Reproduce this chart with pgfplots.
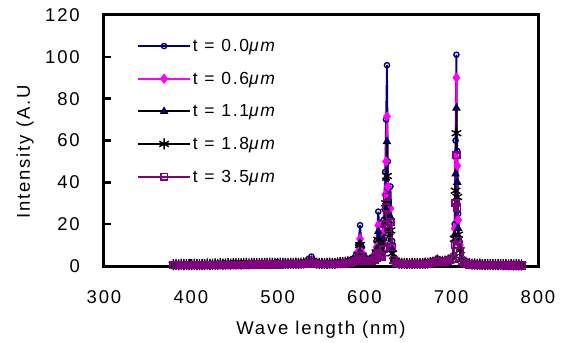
\documentclass[border=0pt]{standalone}
\usepackage{fontspec}
\setmainfont{Liberation Sans}[LetterSpace=10]
\usepackage{pgfplots}
\usepackage{pgfplotstable}
\pgfplotsset{compat=1.18}
\definecolor{cnavy}{HTML}{000080}
\definecolor{cmag}{HTML}{FF00FF}
\definecolor{cpur}{HTML}{800080}
\definecolor{cblue}{HTML}{0000CC}
\pgfplotstableread{
x a b c d e
380 0.5 0.4 0.3 0.6 0.3
383 0.6 0.5 0.4 0.8 0.4
386 0.5 0.4 0.3 0.5 0.3
389 0.7 0.5 0.4 0.9 0.4
392 0.6 0.4 0.3 0.6 0.3
395 0.5 0.5 0.4 0.7 0.4
398 0.6 0.4 0.3 0.8 0.3
401 0.7 0.5 0.4 0.6 0.4
404 0.6 0.4 0.3 0.9 0.3
407 0.5 0.5 0.4 0.7 0.4
410 0.6 0.4 0.3 0.6 0.3
413 0.7 0.5 0.4 0.8 0.4
416 0.6 0.5 0.3 0.7 0.3
419 0.8 0.6 0.5 1.0 0.4
422 0.7 0.5 0.4 0.8 0.4
425 0.8 0.6 0.5 0.9 0.4
428 0.7 0.5 0.4 1.0 0.4
431 0.8 0.6 0.5 0.8 0.5
434 0.9 0.6 0.5 1.1 0.4
437 0.8 0.6 0.5 0.9 0.5
440 0.9 0.7 0.6 1.0 0.5
443 0.8 0.6 0.5 1.2 0.5
446 0.9 0.7 0.6 0.9 0.5
449 1.0 0.7 0.6 1.1 0.6
452 0.9 0.7 0.6 1.0 0.5
455 1.0 0.8 0.7 1.2 0.6
458 0.9 0.7 0.6 1.0 0.6
461 1.0 0.8 0.7 1.1 0.6
464 1.1 0.8 0.7 1.3 0.6
467 1.0 0.8 0.7 1.0 0.6
470 1.1 0.9 0.8 1.2 0.7
473 1.0 0.8 0.7 1.1 0.6
476 1.1 0.9 0.8 1.3 0.7
479 1.2 0.9 0.8 1.1 0.7
482 1.1 0.9 0.8 1.2 0.7
485 1.2 1.0 0.9 1.3 0.8
488 1.1 0.9 0.8 1.2 0.7
491 1.2 1.0 0.9 1.4 0.8
494 1.1 0.9 0.8 1.2 0.7
497 1.2 1.0 0.9 1.3 0.8
500 1.2 1.0 0.9 1.2 0.8
503 1.1 0.9 0.8 1.4 0.7
506 1.2 1.0 0.9 1.2 0.8
509 1.3 1.0 0.9 1.3 0.8
512 1.2 1.0 0.9 1.2 0.8
515 1.3 1.1 1.0 1.4 0.9
518 1.2 1.0 0.9 1.3 0.8
521 1.3 1.1 1.0 1.4 0.9
524 1.3 1.0 0.9 1.2 0.8
527 1.4 1.1 1.0 1.4 0.9
530 1.6 1.2 1.1 1.5 1.0
533 2.2 1.5 1.2 1.6 1.1
536 3.5 2.0 1.5 1.8 1.3
539 4.5 2.5 1.8 2.0 1.5
542 2.5 1.8 1.4 1.6 1.2
545 1.6 1.3 1.1 1.4 1.0
548 1.4 1.1 1.0 1.2 0.9
551 1.3 1.1 1.0 1.3 0.9
554 1.2 1.0 0.9 1.3 0.8
557 1.3 1.1 1.0 1.2 0.9
560 1.4 1.2 1.0 1.4 0.9
563 1.4 1.1 1.0 1.3 0.9
566 1.5 1.2 1.1 1.3 1.0
569 1.6 1.3 1.2 1.5 1.0
572 1.7 1.3 1.2 1.6 1.1
575 1.8 1.4 1.3 1.6 1.1
578 2.0 1.6 1.4 1.8 1.2
581 2.3 1.8 1.5 2.0 1.3
584 2.8 2.1 1.8 2.2 1.5
587 3.5 2.6 2.2 2.5 1.8
590 5.0 3.5 3.0 3.2 2.2
593 10.0 7.0 5.5 5.5 3.2
595 19.5 13.0 11.0 10.0 4.5
597 9.0 6.5 5.5 5.0 3.5
600 4.5 3.5 3.0 3.0 2.5
603 3.5 3.0 2.5 2.5 2.2
606 3.5 3.0 2.5 2.5 2.3
609 4.0 3.5 3.0 3.0 2.5
612 6.0 5.0 4.5 4.0 3.0
614 12.0 9.0 8.0 6.5 4.0
616 26.0 19.5 16.5 12.5 6.0
618 14.0 11.0 9.0 7.5 5.0
620 10.0 8.0 7.0 6.0 4.5
622 22.0 16.0 13.0 10.0 8.0
624 45.0 34.0 28.0 20.0 20.0
625 70.0 50.0 42.0 30.0 28.0
626 96.0 71.5 59.5 43.0 33.0
627 50.0 38.0 30.0 22.0 18.0
628 30.0 22.0 18.0 14.0 12.0
630 38.0 27.5 23.5 17.0 21.0
632 12.0 9.0 8.0 6.0 9.0
634 4.0 3.0 3.0 2.5 3.0
637 2.0 1.8 1.6 1.8 1.5
640 1.5 1.3 1.2 1.4 1.1
643 1.3 1.2 1.0 1.3 1.0
646 1.2 1.1 1.0 1.2 0.9
649 1.2 1.0 0.9 1.3 0.9
652 1.1 1.0 0.9 1.1 0.8
655 1.2 1.0 0.9 1.2 0.9
658 1.2 1.1 1.0 1.3 0.9
661 1.1 1.0 0.9 1.2 0.9
664 1.2 1.1 1.0 1.3 0.9
667 1.3 1.1 1.0 1.2 1.0
670 1.4 1.2 1.1 1.4 1.0
673 1.5 1.3 1.1 1.4 1.1
676 1.8 1.5 1.3 1.6 1.3
679 2.1 1.8 1.5 1.9 1.5
682 2.8 2.4 2.0 2.3 2.0
684 3.5 3.0 2.5 2.8 2.5
687 2.6 2.2 1.9 2.2 1.9
690 2.4 2.1 1.9 2.2 1.9
693 2.6 2.3 2.0 2.3 2.0
696 3.0 2.6 2.3 2.5 2.2
699 3.5 3.2 2.8 2.8 2.8
702 5.0 4.5 4.0 4.0 3.5
704 20.0 18.0 15.0 13.0 10.0
705 60.0 52.0 44.0 36.0 30.0
706 101.0 90.0 75.5 63.5 53.0
707 55.0 48.0 40.0 33.0 28.0
708 25.0 22.0 18.0 15.0 12.0
710 11.5 10.0 8.5 7.5 7.0
712 4.0 3.5 3.0 3.0 2.5
715 2.0 1.8 1.6 1.8 1.4
718 1.3 1.2 1.0 1.3 0.9
721 1.0 0.9 0.8 1.1 0.7
724 0.9 0.8 0.7 0.9 0.6
727 0.8 0.7 0.6 1.0 0.6
730 0.8 0.7 0.6 0.8 0.6
733 0.7 0.6 0.5 0.9 0.5
736 0.7 0.6 0.5 0.8 0.5
739 0.6 0.5 0.5 0.7 0.4
742 0.6 0.5 0.4 0.8 0.4
745 0.6 0.5 0.4 0.6 0.4
748 0.5 0.5 0.4 0.7 0.4
751 0.6 0.4 0.4 0.8 0.3
754 0.5 0.4 0.3 0.6 0.3
757 0.5 0.4 0.3 0.7 0.3
760 0.4 0.4 0.3 0.6 0.3
763 0.5 0.3 0.3 0.7 0.3
766 0.4 0.4 0.3 0.5 0.2
769 0.4 0.3 0.3 0.6 0.2
772 0.4 0.3 0.2 0.5 0.2
775 0.3 0.3 0.2 0.6 0.2
778 0.4 0.3 0.2 0.5 0.2
781 0.3 0.2 0.2 0.5 0.2
}\mySpecTable
\newcommand\myTickFont{\fontsize{18.5bp}{22bp}\selectfont}
\newcommand\myLegFont{\fontsize{17.5bp}{21bp}\selectfont}
\begin{document}
\begin{tikzpicture}
\useasboundingbox (-104bp,-77bp) rectangle (460bp,266bp);
\begin{axis}[
  at={(0,0)}, anchor=south west,
  scale only axis, width=434bp, height=251bp,
  xmin=300, xmax=800, ymin=0, ymax=120,
  xtick={300,400,...,800}, ytick={0,20,...,120},
  axis line style={line width=3bp, black},
  tick align=inside, ytick pos=left, xtick pos=bottom,
  major tick length=7bp,
  every major tick/.append style={line width=2.5bp, black},
  /pgf/number format/assume math mode=true,
  tick label style={font=\myTickFont},
  label style={font=\myTickFont},
  yticklabel style={inner sep=0pt, xshift=-24bp},
  xticklabel style={inner sep=0pt, yshift=-24bp},
  xlabel={Wave length (nm)},
  ylabel={Intensity (A.U},
  xlabel style={at={(axis description cs:0.5,0)}, anchor=center, yshift=-64bp},
  ylabel style={at={(axis description cs:0,0.4542)}, anchor=center, yshift=79bp},
  legend style={draw=none, fill=none, font=\myLegFont, at={(30bp,231bp)}, anchor=north west,
    legend cell align=left, row sep=15bp, /tikz/every even column/.append style={column sep=4bp}},
  legend image code/.code={\draw[mark repeat=2,mark phase=2] plot coordinates {(0bp,0bp) (26bp,0bp) (52bp,0bp)};},
  clip=false,
]
\addplot[cnavy, line width=1.8bp, mark=o, mark size=2.6bp, mark options={line width=1.4bp, fill=white}] table[x=x,y=a]{\mySpecTable};
\addlegendentry{t = 0.0\textit{μm}}
\addplot[cmag, line width=1.8bp, mark=diamond*, mark size=3.8bp, mark options={fill=cmag, draw=cmag}] table[x=x,y=b]{\mySpecTable};
\addlegendentry{t = 0.6\textit{μm}}
\addplot[black, line width=1.8bp, mark=triangle*, mark size=4bp, mark options={fill=cblue, draw=black, line width=1bp}] table[x=x,y=c]{\mySpecTable};
\addlegendentry{t = 1.1\textit{μm}}
\addplot[black, line width=1.8bp, mark=asterisk, mark size=5.5bp, mark options={line width=1.4bp}] table[x=x,y=d]{\mySpecTable};
\addlegendentry{t = 1.8\textit{μm}}
\addplot[cpur, line width=1.8bp, mark=square, mark size=3.3bp, mark options={line width=1.6bp, fill=white}] table[x=x,y=e]{\mySpecTable};
\addlegendentry{t = 3.5\textit{μm}}
\end{axis}
\end{tikzpicture}
\end{document}
